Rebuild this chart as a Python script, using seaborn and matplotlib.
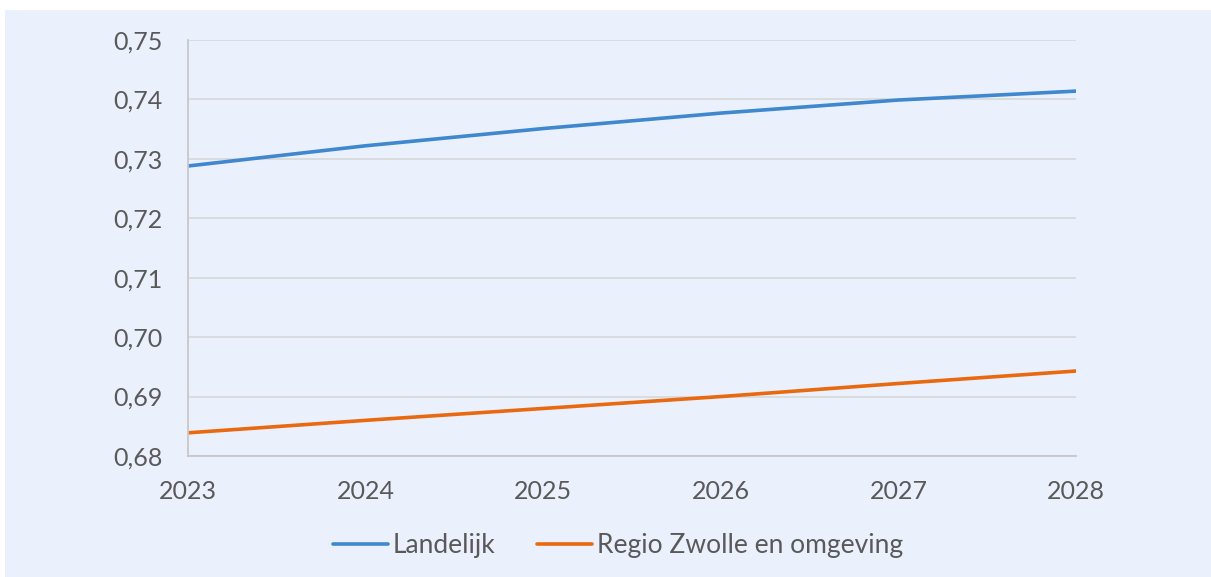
import matplotlib
matplotlib.use("Agg")
import matplotlib.pyplot as plt
from matplotlib.patches import Rectangle
from matplotlib.ticker import FuncFormatter
import pandas as pd
import seaborn as sns

years = [2023, 2024, 2025, 2026, 2027, 2028]
landelijk = [0.7288, 0.7322, 0.7351, 0.7377, 0.7399, 0.7414]
regio_zwolle = [0.6839, 0.6860, 0.6880, 0.6900, 0.6922, 0.6943]
series_names = ["Landelijk", "Regio Zwolle en omgeving"]
colors = ["#3F87CE", "#E8690F"]
y_ticks = [0.68, 0.69, 0.70, 0.71, 0.72, 0.73, 0.74, 0.75]

df = pd.DataFrame({
    "jaar": years * 2,
    "waarde": landelijk + regio_zwolle,
    "reeks": [series_names[0]] * len(years) + [series_names[1]] * len(years),
})

sns.set_style("white")
plt.rcParams["font.family"] = ["Lato", "DejaVu Sans"]

bg = "#EAF1FD"
fig = plt.figure(figsize=(12.11, 5.77), dpi=100, facecolor="white")
fig.patches.append(Rectangle((5 / 1211, 0), 1.0, (577 - 10) / 577, transform=fig.transFigure,
                             facecolor=bg, edgecolor="none", zorder=-10))
ax = fig.add_axes([188 / 1211, 1 - 456 / 577, (1076 - 188) / 1211, (456 - 40) / 577])
ax.set_facecolor(bg)

sns.lineplot(data=df, x="jaar", y="waarde", hue="reeks", hue_order=series_names,
             palette=colors, linewidth=2.6, ax=ax, legend=False)

ax.set_xlim(2023, 2028)
ax.set_ylim(0.68, 0.75)
ax.set_yticks(y_ticks)
ax.set_xticks(years)
ax.yaxis.set_major_formatter(FuncFormatter(lambda v, p: f"{v:.2f}".replace(".", ",")))
ax.grid(axis="y", color="#D9D9D9", linewidth=1.3)
ax.set_axisbelow(True)
for side in ["top", "right"]:
    ax.spines[side].set_visible(False)
for side in ["left", "bottom"]:
    ax.spines[side].set_color("#C8C8C8")
    ax.spines[side].set_linewidth(1.3)
ax.tick_params(axis="y", length=0, pad=18, labelsize=18, labelcolor="#595959")
ax.tick_params(axis="x", length=7, width=1.3, color="#C8C8C8", pad=10, labelsize=18, labelcolor="#595959")
ax.set_xlabel("")
ax.set_ylabel("")

handles = [plt.Line2D([], [], color=c, linewidth=2.6) for c in colors]
fig.legend(handles, series_names, loc="center", bbox_to_anchor=(618 / 1211, 1 - 546 / 577),
           ncol=2, frameon=False, fontsize=19, handlelength=2.08, handletextpad=0.19,
           columnspacing=1.55, labelcolor="#595959")

fig.savefig("out.png", dpi=100, facecolor="white")
